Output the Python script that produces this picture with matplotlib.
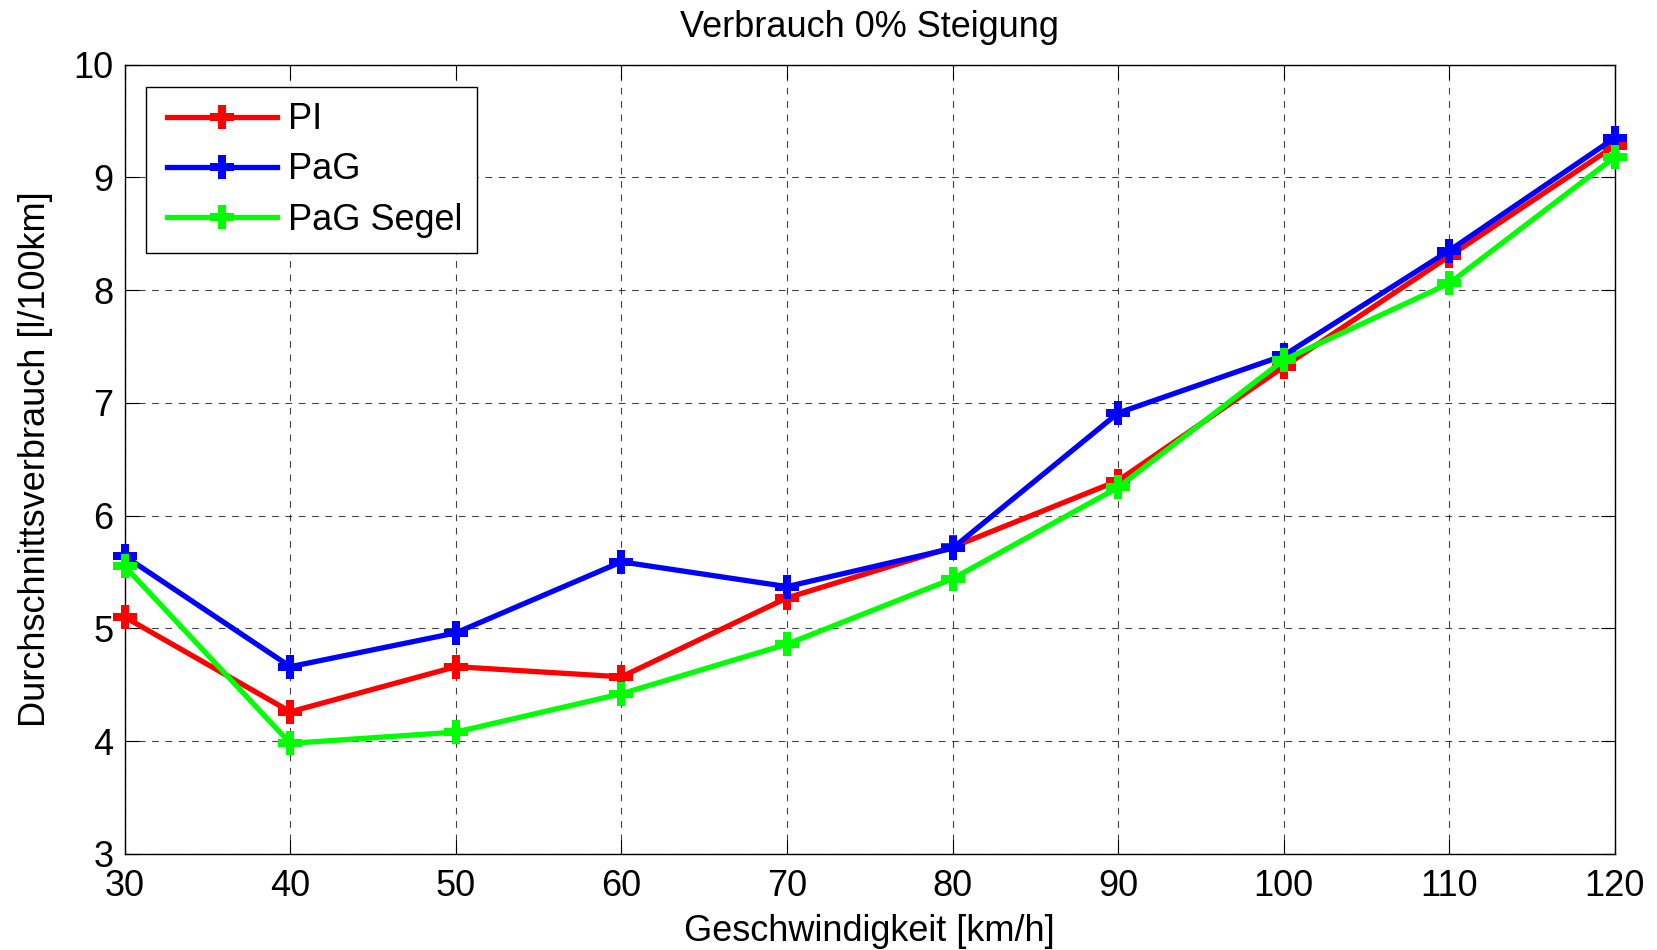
import matplotlib
matplotlib.use("Agg")
import matplotlib.pyplot as plt
from matplotlib.legend_handler import HandlerLine2D

plt.rcParams['font.family'] = ['Liberation Sans', 'DejaVu Sans']

speed = [30, 40, 50, 60, 70, 80, 90, 100, 110, 120]
pi_vals = [5.10, 4.26, 4.66, 4.57, 5.27, 5.72, 6.31, 7.32, 8.30, 9.28]
pag_vals = [5.64, 4.66, 4.96, 5.59, 5.37, 5.71, 6.91, 7.42, 8.35, 9.35]
segel_vals = [5.55, 3.98, 4.08, 4.42, 4.86, 5.44, 6.25, 7.38, 8.06, 9.18]

series = [("PI", pi_vals, "#ff0000"),
          ("PaG", pag_vals, "#0000ff"),
          ("PaG Segel", segel_vals, "#00ff00")]

FS = 26

fig = plt.figure(figsize=(16.57, 9.5), dpi=100)
ax = fig.add_axes([0.0753, 0.1012, 0.8992, 0.8308])

lines = []
for name, vals, col in series:
    ln, = ax.plot(speed, vals, color=col, lw=3.8, marker='P', markersize=17,
                  markeredgewidth=0, label=name, clip_on=False, zorder=3)
    lines.append(ln)

ax.set_xlim(30, 120)
ax.set_ylim(3, 10)
ax.set_xticks(range(30, 121, 10))
ax.set_yticks(range(3, 11))
ax.grid(True, color='black', linestyle=(0, (6, 6)), linewidth=0.8, alpha=0.75)
ax.tick_params(direction='in', length=10, width=0.8, labelsize=FS,
               top=True, right=True)
ax.tick_params(axis='x', pad=11)
ax.tick_params(axis='y', pad=8)
for s in ax.spines.values():
    s.set_linewidth(1.0)

ax.set_title("Verbrauch 0% Steigung", fontsize=FS, pad=20)
ax.set_xlabel("Geschwindigkeit [km/h]", fontsize=FS, labelpad=7)
ax.set_ylabel("Durchschnittsverbrauch [l/100km]", fontsize=FS, labelpad=15)

leg = ax.legend(loc='upper left', bbox_to_anchor=(0.0143, 0.9715),
                borderaxespad=0, fontsize=FS, fancybox=False, framealpha=1,
                edgecolor='black', handlelength=3.2, borderpad=0.42,
                labelspacing=0.42, handletextpad=0.3,
                handler_map={ln: HandlerLine2D(xpad=0.17) for ln in lines})
leg.get_frame().set_linewidth(1.0)

fig.savefig("out.png", dpi=100)
